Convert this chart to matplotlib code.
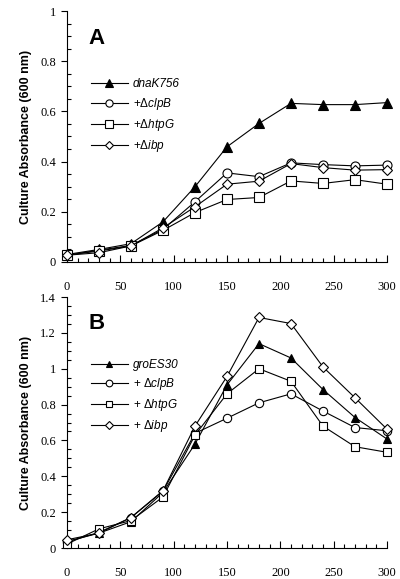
import matplotlib
matplotlib.use("Agg")
import matplotlib.pyplot as plt
from matplotlib.ticker import MultipleLocator

plt.rcParams['font.family'] = ['Liberation Serif', 'DejaVu Serif']
plt.rcParams['mathtext.fontset'] = 'custom'
plt.rcParams['mathtext.rm'] = 'Liberation Sans'
plt.rcParams['mathtext.it'] = 'Liberation Sans:italic'

# time (min)
t = [0, 30, 60, 90, 120, 150, 180, 210, 240, 270, 300]

# panel A
a_dnak = [0.03, 0.05, 0.073, 0.16, 0.30, 0.459, 0.552, 0.632, 0.627, 0.627, 0.635]
a_clpb = [0.027, 0.047, 0.066, 0.13, 0.24, 0.355, 0.34, 0.395, 0.388, 0.383, 0.386]
a_htpg = [0.027, 0.044, 0.064, 0.126, 0.197, 0.249, 0.257, 0.323, 0.313, 0.328, 0.31]
a_ibp = [0.027, 0.037, 0.064, 0.136, 0.22, 0.31, 0.322, 0.392, 0.376, 0.366, 0.368]

# panel B
b_groes = [0.037, 0.083, 0.147, 0.31, 0.58, 0.91, 1.14, 1.06, 0.884, 0.728, 0.608]
b_clpb = [0.033, 0.087, 0.17, 0.317, 0.64, 0.724, 0.81, 0.86, 0.764, 0.672, 0.654]
b_htpg = [0.022, 0.107, 0.153, 0.285, 0.63, 0.86, 1.0, 0.93, 0.68, 0.565, 0.534]
b_ibp = [0.046, 0.083, 0.17, 0.32, 0.68, 0.957, 1.286, 1.252, 1.01, 0.838, 0.663]

labels_a = ['dnaK756', '+Δ$\\mathit{clpB}$', '+Δ$\\mathit{htpG}$', '+Δ$\\mathit{ibp}$']
labels_b = ['groES30', '+ Δ$\\mathit{clpB}$', '+ Δ$\\mathit{htpG}$', '+ Δ$\\mathit{ibp}$']
markers = ['^', 'o', 's', 'D']
mfc = ['black', 'white', 'white', 'white']

fig = plt.figure(figsize=(4, 5.79), dpi=100)
axA = fig.add_axes([0.1675, 0.5475, 0.80, 0.4335])
axB = fig.add_axes([0.1675, 0.0535, 0.80, 0.4335])


def style(ax, ymax):
    ax.set_xlim(0, 300)
    ax.set_ylim(0, ymax)
    ax.spines['top'].set_visible(False)
    ax.spines['right'].set_visible(False)
    ax.spines['left'].set_linewidth(0.8)
    ax.spines['bottom'].set_linewidth(0.8)
    ax.xaxis.set_major_locator(MultipleLocator(50))
    ax.xaxis.set_minor_locator(MultipleLocator(10))
    ax.yaxis.set_major_locator(MultipleLocator(0.2))
    ax.yaxis.set_minor_locator(MultipleLocator(0.05))
    ax.yaxis.set_major_formatter(plt.FuncFormatter(lambda v, p: '%g' % round(v, 2)))
    ax.tick_params(axis='x', which='major', direction='in', length=5, width=0.8,
                   pad=14, labelsize=9)
    ax.tick_params(axis='x', which='minor', direction='in', length=3, width=0.8)
    ax.tick_params(axis='y', which='major', direction='out', length=4, width=0.8,
                   pad=4, labelsize=9)
    ax.tick_params(axis='y', which='minor', direction='in', length=3, width=0.8)
    ax.set_ylabel('Culture Absorbance (600 nm)', family='Liberation Sans',
                  fontweight='bold', fontsize=9, labelpad=6)


def draw(ax, series, labels, ms):
    for y, lab, m, fc in zip(series, labels, markers, mfc):
        size = ms if m != 'D' else ms * 0.85
        ax.plot(t, y, color='black', lw=0.8, marker=m, markersize=size,
                markerfacecolor=fc, markeredgecolor='black', markeredgewidth=0.8,
                label=lab, clip_on=False, zorder=3)


def legend(ax, anchor, spacing, scale):
    leg = ax.legend(loc='upper left', bbox_to_anchor=anchor, frameon=False,
                    prop={'family': 'Liberation Sans', 'size': 8.5},
                    handlelength=3.1, handletextpad=0.45, labelspacing=spacing,
                    borderaxespad=0, markerscale=scale)
    leg.get_texts()[0].set_style('italic')


style(axA, 1.0)
draw(axA, [a_dnak, a_clpb, a_htpg, a_ibp], labels_a, 6.5)
axA.text(20, 0.89, 'A', family='Liberation Sans', fontweight='bold', fontsize=16,
         va='center', ha='left')
legend(axA, (0.06, 0.75), 0.45, 0.8)

style(axB, 1.4)
draw(axB, [b_groes, b_clpb, b_htpg, b_ibp], labels_b, 6)
axB.text(20, 1.25, 'B', family='Liberation Sans', fontweight='bold', fontsize=16,
         va='center', ha='left')
legend(axB, (0.06, 0.77), 0.4, 0.8)

fig.savefig('out.png', dpi=100)
